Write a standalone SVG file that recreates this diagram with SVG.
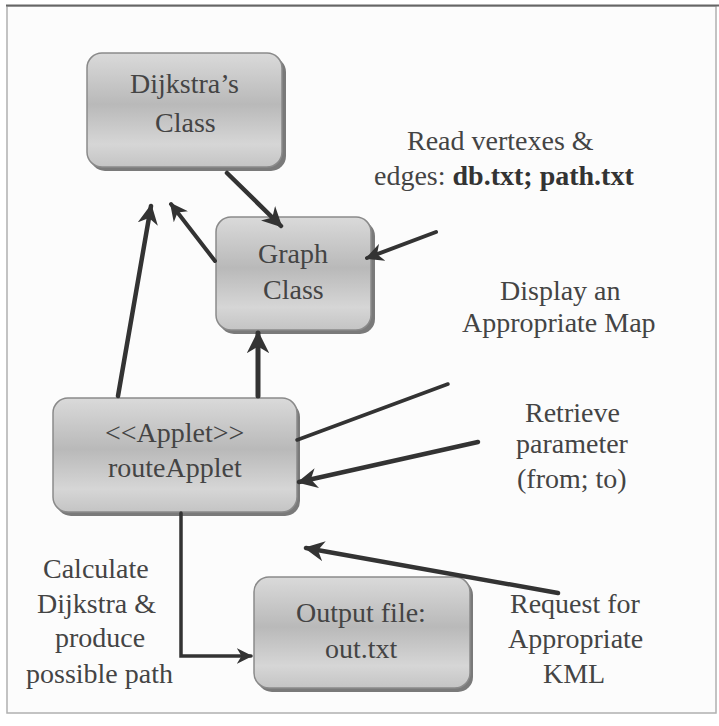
<svg xmlns="http://www.w3.org/2000/svg" width="719" height="726" viewBox="0 0 719 726">
<defs>
<linearGradient id="g" x1="0" y1="0" x2="0" y2="1">
<stop offset="0" stop-color="#dadada"/>
<stop offset="0.45" stop-color="#b9b9b9"/>
<stop offset="0.8" stop-color="#d6d6d6"/>
<stop offset="1" stop-color="#c4c4c4"/>
</linearGradient>
<marker id="ah" viewBox="0 0 10 10" refX="9" refY="5" markerWidth="4.5" markerHeight="4.5" orient="auto" markerUnits="strokeWidth">
<path d="M0,0 L10,5 L0,10 L3,5 Z" fill="#333"/>
</marker>
</defs>
<rect x="0" y="0" width="719" height="726" fill="#ffffff"/>
<rect x="7" y="6" width="709" height="707" fill="#fcfcfc" stroke="#b0b0b0" stroke-width="1.5"/>
<line x1="6" y1="5.5" x2="719" y2="5.5" stroke="#666" stroke-width="2"/>

<g id="dijkstra">
<rect x="90" y="57" width="196" height="114" rx="15" fill="#7a7a7a"/>
<rect x="87" y="53" width="195" height="114" rx="15" fill="url(#g)" stroke="#8a8a8a" stroke-width="1.5"/>
<text x="130" y="93" font-family="Liberation Serif" font-size="28" fill="#444">Dijkstra’s</text>
<text x="155" y="132" font-family="Liberation Serif" font-size="28" fill="#444">Class</text>
</g>

<g id="graph">
<rect x="219" y="221" width="156" height="113" rx="15" fill="#7a7a7a"/>
<rect x="216" y="217" width="155" height="113" rx="15" fill="url(#g)" stroke="#8a8a8a" stroke-width="1.5"/>
<text x="258" y="263" font-family="Liberation Serif" font-size="28" fill="#444">Graph</text>
<text x="263" y="299" font-family="Liberation Serif" font-size="28" fill="#444">Class</text>
</g>

<g id="routeApplet">
<rect x="56" y="402" width="244" height="114" rx="15" fill="#7a7a7a"/>
<rect x="53" y="398" width="244" height="114" rx="15" fill="url(#g)" stroke="#8a8a8a" stroke-width="1.5"/>
<text x="105" y="442" font-family="Liberation Serif" font-size="28" fill="#444">&lt;&lt;Applet&gt;&gt;</text>
<text x="108" y="477" font-family="Liberation Serif" font-size="28" fill="#444">routeApplet</text>
</g>

<g id="output">
<rect x="257" y="580" width="216" height="112" rx="15" fill="#7a7a7a"/>
<rect x="254" y="577" width="216" height="111" rx="15" fill="url(#g)" stroke="#8a8a8a" stroke-width="1.5"/>
<text x="296" y="622" font-family="Liberation Serif" font-size="28" fill="#444">Output file:</text>
<text x="325" y="658" font-family="Liberation Serif" font-size="28" fill="#444">out.txt</text>
</g>

<g id="labels">
<text x="407" y="150" font-family="Liberation Serif" font-size="28" fill="#444">Read vertexes &amp;</text>
<text x="374" y="185" font-family="Liberation Serif" font-size="28" fill="#444">edges: <tspan font-weight="bold" fill="#333">db.txt; path.txt</tspan></text>
<text x="500" y="300" font-family="Liberation Serif" font-size="28" fill="#444">Display an</text>
<text x="462" y="332" font-family="Liberation Serif" font-size="28" fill="#444">Appropriate Map</text>
<text x="525" y="422" font-family="Liberation Serif" font-size="28" fill="#444">Retrieve</text>
<text x="516" y="453" font-family="Liberation Serif" font-size="28" fill="#444">parameter</text>
<text x="517" y="488" font-family="Liberation Serif" font-size="28" fill="#444">(from; to)</text>
<text x="510" y="613" font-family="Liberation Serif" font-size="28" fill="#444">Request for</text>
<text x="508" y="648" font-family="Liberation Serif" font-size="28" fill="#444">Appropriate</text>
<text x="543" y="683" font-family="Liberation Serif" font-size="28" fill="#444">KML</text>
<text x="43" y="578" font-family="Liberation Serif" font-size="28" fill="#444">Calculate</text>
<text x="37" y="613" font-family="Liberation Serif" font-size="28" fill="#444">Dijkstra &amp;</text>
<text x="55" y="647" font-family="Liberation Serif" font-size="28" fill="#444">produce</text>
<text x="26" y="683" font-family="Liberation Serif" font-size="28" fill="#444">possible path</text>
</g>

<g id="connectors" stroke="#333" fill="none" stroke-linecap="round">
<line x1="227" y1="173" x2="281" y2="226" stroke-width="4.5" marker-end="url(#ah)"/>
<line x1="215" y1="261" x2="171" y2="204" stroke-width="4" marker-end="url(#ah)"/>
<line x1="118" y1="396" x2="151" y2="206" stroke-width="4.5" marker-end="url(#ah)"/>
<line x1="258" y1="396" x2="258" y2="333" stroke-width="5" marker-end="url(#ah)"/>
<line x1="436" y1="232" x2="367" y2="258" stroke-width="4" marker-end="url(#ah)"/>
<line x1="297" y1="440" x2="448" y2="384" stroke-width="3.5"/>
<line x1="478" y1="442" x2="299" y2="482" stroke-width="4.5" marker-end="url(#ah)"/>
<line x1="558" y1="593" x2="306" y2="548" stroke-width="4.5" marker-end="url(#ah)"/>
<polyline points="181,513 181,656 251,656" stroke-width="3.5" stroke-linejoin="miter" marker-end="url(#ah)"/>
</g>
</svg>
